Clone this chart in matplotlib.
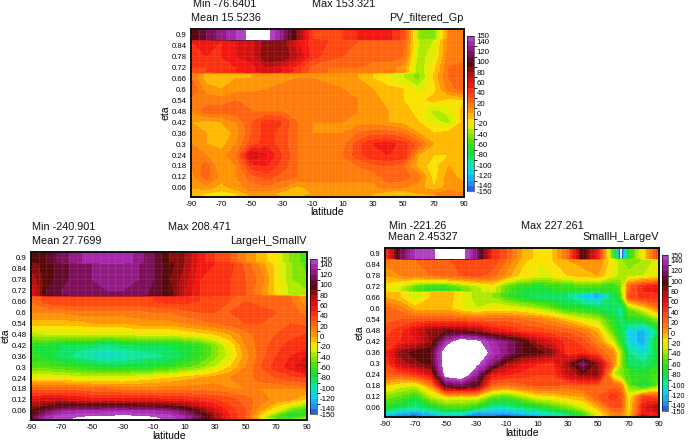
import numpy as np
import matplotlib
matplotlib.use("Agg")
import matplotlib.pyplot as plt
from matplotlib.colors import LinearSegmentedColormap, BoundaryNorm

plt.rcParams['font.family'] = ['Liberation Sans', 'DejaVu Sans']
plt.rcParams['axes.unicode_minus'] = False

W, H = 688, 440

lats = [-90,-80,-70,-60,-50,-40,-30,-20,-10,0,10,20,30,40,50,60,70,80,90]
lats_r = [-90,-80,-70,-60,-50,-40,-30,-20,-10,0,10,20,30,40,50,60,65,70,80,90]
etas = [0.935,0.872,0.868,0.78,0.72,0.695,0.685,0.66,0.6,0.54,0.48,0.42,0.36,0.3,0.24,0.18,0.12,0.06,0.03,0.0]

eta_ticks = [0.06,0.12,0.18,0.24,0.3,0.36,0.42,0.48,0.54,0.6,0.66,0.72,0.78,0.84,0.9]
lat_ticks = [-90,-70,-50,-30,-10,10,30,50,70,90]
bar_ticks = [150,140,120,100,80,60,40,20,0,-20,-40,-60,-80,-100,-120,-140,-150]
levels = list(range(-150, 160, 10))

pv = [
 [90,110,125,140,155,155,125,85,40,35,40,50,55,55,35,-40,-45,10,15],
 [50,55,50,60,65,85,85,60,45,40,35,30,25,25,25,-30,-30,15,15],
 [45,50,50,60,65,90,90,70,45,35,30,30,25,25,20,-35,-25,15,15],
 [40,40,45,50,55,70,60,45,25,20,20,20,15,15,5,-40,-15,20,25],
 [20,-5,-5,0,0,5,5,10,10,5,5,0,-10,-20,-30,-45,-10,20,30],
 [30,5,0,5,5,10,15,15,15,15,10,5,0,-5,-10,-25,-15,15,25],
 [15,15,15,20,20,20,20,20,20,15,15,10,5,-5,-10,-15,-5,-15,-10],
 [10,25,25,25,20,20,20,20,20,20,15,10,5,0,-5,-15,-35,-25,-5],
 [0,-5,0,10,30,45,40,20,10,10,10,5,5,0,-5,-10,-25,-35,-5],
 [5,0,-10,5,30,45,35,20,10,10,10,20,25,25,20,0,-10,-5,0],
 [10,0,-5,10,35,45,35,20,15,15,15,35,50,55,45,25,0,-5,0],
 [15,10,5,20,70,60,40,20,20,20,20,35,50,50,50,0,-10,-10,0],
 [10,25,0,10,45,50,35,20,20,20,15,20,25,30,20,-5,-15,0,-5],
 [5,25,5,10,25,35,25,20,15,15,15,15,15,25,25,15,-15,5,-5],
 [0,5,-5,5,15,15,10,-5,5,5,5,5,5,15,10,5,-10,5,5],
 [-5,-10,-15,-10,5,5,-5,-10,0,0,5,5,0,-10,-15,0,10,15,10],
 [-5,-25,-30,-10,0,5,0,0,5,5,10,5,0,5,5,0,-30,15,15],
]

large_h = [
 [90,100,115,125,138,140,138,125,110,90,80,55,40,30,10,-5,-20,-45,-55],
 [85,95,105,115,120,125,125,120,110,95,80,55,50,45,25,5,-15,-40,-55],
 [70,95,105,115,120,125,125,120,110,90,75,50,45,40,30,15,-15,-40,-50],
 [55,100,110,118,120,120,120,120,105,95,70,50,45,40,30,10,-15,-35,-40],
 [20,35,40,40,40,40,40,40,40,45,45,40,35,30,30,25,25,20,0],
 [10,10,10,15,15,15,15,15,20,20,25,30,30,30,35,35,30,25,15],
 [-5,-5,-5,-5,0,0,0,5,5,5,10,15,20,25,30,30,30,30,25],
 [-35,-30,-30,-30,-30,-30,-30,-25,-25,-25,-20,-15,-10,0,15,25,30,35,40],
 [-70,-70,-80,-85,-85,-90,-85,-80,-80,-80,-75,-65,-45,-20,10,25,35,45,45],
 [-65,-75,-85,-95,-105,-110,-105,-100,-95,-90,-80,-65,-45,-25,5,25,40,50,60],
 [-55,-55,-60,-65,-70,-75,-75,-70,-70,-65,-55,-45,-30,-10,10,30,45,55,75],
 [-20,-20,-20,-25,-25,-25,-25,-20,-15,-10,-5,0,5,10,15,25,30,35,40],
 [25,25,25,25,20,20,15,15,15,15,15,15,15,10,10,10,10,10,10],
 [60,65,65,60,55,55,55,55,55,50,50,45,40,35,25,15,5,0,-15],
 [90,110,125,130,130,135,135,130,130,125,110,90,65,45,30,0,-25,-55,-70],
 [100,130,145,148,150,150,152,150,148,145,130,110,80,50,30,-20,-60,-90,-60],
 [110,140,148,155,160,180,180,175,160,150,130,100,70,50,30,0,-40,-10,-5],
]

small_h = [
 [30,110,140,145,160,160,120,50,30,0,-15,-10,20,100,50,-60,-170,-70,-15,40],
 [15,20,20,25,25,40,40,40,20,-5,-20,-10,0,5,10,-20,-40,-50,-40,-25],
 [0,10,15,20,25,30,35,25,5,-15,-20,-20,-10,-5,0,-25,-35,-35,-30,-25],
 [-15,-30,-55,-65,-65,-50,-35,-20,-55,-70,-75,-70,-65,-60,-60,-70,-50,25,50,60],
 [0,-10,-30,-10,0,-20,-35,-40,-60,-75,-85,-85,-90,-110,-125,-80,-60,30,45,45],
 [25,15,-5,-5,-5,-20,-30,-20,-20,-25,-35,-50,-70,-70,-80,-85,-95,-50,-20,15],
 [25,30,30,30,30,30,25,25,25,20,15,5,-10,-25,-35,-70,-90,-70,-70,-40],
 [35,45,65,85,90,85,80,60,50,40,35,30,25,15,-5,-60,-75,-115,-125,-85],
 [40,50,60,80,135,165,155,135,120,100,75,60,45,35,10,-30,-70,-110,-130,-55],
 [45,85,95,100,165,200,175,140,120,100,95,85,40,45,30,10,-40,-90,-110,-70],
 [40,70,85,95,165,190,155,120,80,60,50,45,80,120,80,15,-40,-85,-90,-70],
 [25,30,40,60,160,170,125,55,50,45,40,40,70,85,85,-30,-45,-60,-70,-55],
 [-10,-25,-30,5,100,110,95,25,15,25,30,30,25,30,30,25,15,-50,-85,-45],
 [-45,-55,-70,-35,-15,-20,-15,-50,-60,-40,-20,-15,-5,0,30,45,35,-20,40,30],
 [-70,-85,-95,-80,-65,-60,-75,-100,-100,-90,-80,-65,-50,-30,-5,30,30,-20,60,80],
 [-110,-125,-135,-120,-100,-100,-135,-130,-130,-120,-110,-100,-85,-60,-20,15,15,-15,55,60],
 [-130,-155,-160,-130,-130,-155,-130,-160,-170,-160,-150,-130,-100,-70,-30,10,15,-5,100,40],
]

stops = [(0.0,'#2a5fe8'),(0.033,'#2090f0'),(0.1,'#10d0f0'),(0.167,'#10e8a0'),(0.233,'#10e040'),
         (0.3,'#40e010'),(0.367,'#a0e800'),(0.433,'#f8f000'),(0.467,'#ffd000'),(0.5,'#ffa000'),
         (0.567,'#ff7010'),(0.633,'#ff4010'),(0.7,'#f01010'),(0.767,'#b01010'),(0.833,'#500808'),
         (0.9,'#801060'),(0.967,'#a828b0'),(1.0,'#b040c0')]
cmap = LinearSegmentedColormap.from_list('pv', stops, N=len(levels)-1)
cmap.set_over('white')
cmap.set_under('white')
norm = BoundaryNorm(levels, cmap.N)


def box(x0, y0, x1, y1):
    return [x0/W, 1-y1/H, (x1-x0)/W, (y1-y0)/H]


def panel(rows, lon, pos, barpos, name, stats, name_x, xlab_y, bar_fs):
    fig = plt.gcf()
    ax = fig.add_axes(box(*pos))
    r = [rows[0], rows[0], rows[1], rows[2], rows[3], rows[3], rows[4]] + rows[4:]
    z = np.array(r, dtype=float)
    ax.contourf(lon, etas, z, levels=levels, cmap=cmap, norm=norm, extend='both', antialiased=False)
    ax.set_xlim(-90, 90)
    ax.set_ylim(0.01, 0.93)
    ax.set_xticks(lat_ticks)
    ax.set_yticks(eta_ticks)
    ax.set_yticklabels([f'{e:g}' for e in eta_ticks])
    ax.tick_params(labelsize=5.6, length=0, pad=3)
    for v in np.arange(-85, 90, 5):
        ax.axvline(v, color='white', lw=0.5, alpha=0.1)
    for v in np.arange(0.03, 0.93, 0.03):
        ax.axhline(v, color='white', lw=0.5, alpha=0.08)
    for s in ax.spines.values():
        s.set_linewidth(1.4)
        s.set_color('#101010')
    ax.set_ylabel('eta', fontsize=7.5, labelpad=1)
    fig.text((pos[0]+pos[2])/2/W, 1-xlab_y/H, 'latitude', fontsize=7.5, ha='center', va='center')
    cax = fig.add_axes(box(*barpos))
    sm = plt.cm.ScalarMappable(norm=norm, cmap=cmap)
    cb = fig.colorbar(sm, cax=cax, ticks=bar_ticks, spacing='proportional', extend='neither')
    cb.ax.tick_params(labelsize=bar_fs, length=0, pad=2)
    cb.outline.set_linewidth(0.4)
    for (x, y, t) in stats:
        fig.text(x/W, 1-y/H, t, fontsize=7.8, ha='left', va='center', color='#111111')
    fig.text(name_x/W, 1-stats[-1][1]/H, name, fontsize=7.8, ha='right', va='center', color='#111111')


fig = plt.figure(figsize=(W/100, H/100), dpi=100)
panel(pv, lats, (191, 29, 464, 197), (467, 36, 474, 191), 'PV_filtered_Gp',
      [(193, 4, 'Min -76.6401'), (312, 4, 'Max 153.321'), (191, 18, 'Mean 15.5236')], 464, 212, 5.6)
panel(large_h, lats, (31, 252, 307, 420), (310, 259, 317, 414), 'LargeH_SmallV',
      [(32, 227, 'Min -240.901'), (168, 227, 'Max 208.471'), (32, 241, 'Mean 27.7699')], 307, 436, 5.6)
panel(small_h, lats_r, (385, 248, 659, 417), (662, 255, 668, 411), 'SmallH_LargeV',
      [(389, 226, 'Min -221.26'), (521, 226, 'Max 227.261'), (388, 237, 'Mean 2.45327')], 659, 433, 5.2)
fig.savefig('out.png', dpi=100)
